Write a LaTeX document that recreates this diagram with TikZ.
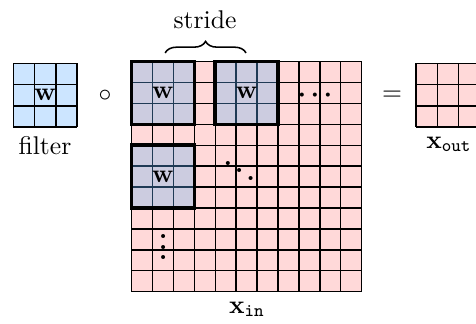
\documentclass[tikz,border=0pt]{standalone}
\usetikzlibrary{decorations.pathreplacing}
\definecolor{pinkc}{HTML}{FFD9D9}
\definecolor{bluec}{HTML}{CCE5FF}
\definecolor{lavc}{HTML}{CCCCE0}
\definecolor{linec}{HTML}{1F3A55}
\tikzset{
  gridline/.style={line width=0.6pt, black},
  innerline/.style={line width=0.6pt, linec},
  blockborder/.style={line width=1.4pt, black},
  lbl/.style={inner sep=0pt},
  dotlbl/.style={inner sep=0pt, font=\boldmath\bfseries}
}
\begin{document}
\begin{tikzpicture}[x=0.39pt,y=-0.39pt]
\useasboundingbox (0,0) rectangle (476,324);
% filter
\begin{scope}[shift={(13.3,63.3)}, x=8.31pt, y=-8.31pt]
  \fill[bluec] (0,0) rectangle (3,3);
  \foreach \i in {0,...,3} {
    \draw[gridline] (\i,0) -- (\i,3);
    \draw[gridline] (0,\i) -- (3,\i);
  }
  \node[lbl] (wf) at (1.5,1.5) {$\mathbf{w}$};
\end{scope}
\node[lbl, anchor=north] (filterlbl) at (45,136) {filter};
\node[lbl] (circ) at (105,96) {$\circ$};
\node[lbl] (eq) at (392,96) {$=$};
% main input grid
\begin{scope}[shift={(131.7,61.7)}, x=8.15pt, y=-8.15pt]
  \fill[pinkc] (0,0) rectangle (11,11);
  \foreach \i in {0,...,11} {
    \draw[gridline] (\i,0) -- (\i,11);
    \draw[gridline] (0,\i) -- (11,\i);
  }
  \foreach \c/\r/\n in {0/0/wa, 4/0/wb, 0/4/wc} {
    \fill[lavc] (\c,\r) rectangle ++(3,3);
    \foreach \k in {1,2} {
      \draw[innerline] (\c+\k,\r) -- (\c+\k,\r+3);
      \draw[innerline] (\c,\r+\k) -- (\c+3,\r+\k);
    }
    \draw[blockborder] (\c,\r) rectangle ++(3,3);
    \node[lbl] (\n) at (\c+1.5,\r+1.5) {$\mathbf{w}$};
  }
  \node[dotlbl] (hdots) at (8.77,1.6) {$\cdots$};
  \node[dotlbl] (ddots) at (5.15,4.85) {$\ddots$};
  \node[dotlbl] (vdots) at (1.51,8.5) {$\vdots$};
  \coordinate (b1) at (1.6,-0.42);
  \coordinate (b2) at (5.47,-0.42);
\end{scope}
\draw[line width=0.6pt, decorate, decoration={brace, amplitude=4.5pt}] (b1) -- (b2);
\node[lbl] (stride) at (205,20) {stride};
\node[lbl, anchor=base] (xin) at (247,313) {$\mathbf{x}_{\mathtt{in}}$};
% output grid
\begin{scope}[shift={(416,63.3)}, x=8.31pt, y=-8.31pt]
  \fill[pinkc] (0,0) rectangle (3,3);
  \foreach \i in {0,...,3} {
    \draw[gridline] (\i,0) -- (\i,3);
    \draw[gridline] (0,\i) -- (3,\i);
  }
\end{scope}
\node[lbl, anchor=base] (xout) at (449,148) {$\mathbf{x}_{\mathtt{out}}$};
\end{tikzpicture}
\end{document}
